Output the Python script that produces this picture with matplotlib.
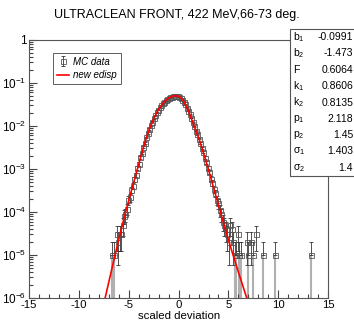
import numpy as np
import matplotlib
matplotlib.use("Agg")
import matplotlib.pyplot as plt
from matplotlib.patches import Rectangle

plt.rcParams['font.family'] = ['Liberation Sans', 'DejaVu Sans']
plt.rcParams['mathtext.fontset'] = 'custom'
plt.rcParams['mathtext.rm'] = 'Liberation Sans'
plt.rcParams['mathtext.it'] = 'Liberation Sans:italic'
plt.rcParams['axes.unicode_minus'] = False

# MC histogram: 200 bins over [-15, 15], counts normalised to total
n_total = 100000
first_center = -6.675
bin_width = 0.15
core_counts = [1, 1, 0, 3, 2, 3, 3, 5, 8, 9, 12, 19, 22, 33, 40, 58, 73, 104, 131, 186,
               236, 330, 410, 545, 690, 845, 1040, 1250, 1520, 1760, 2070, 2390, 2700,
               3000, 3370, 3660, 3950, 4200, 4490, 4630, 4820, 4970, 5030, 4990, 4920,
               4730, 4350, 4090, 3700, 3180, 2680, 2260, 1870, 1530, 1220, 975, 780, 645,
               510, 405, 310, 248, 183, 144, 108, 85, 60, 48, 34, 28, 19, 16, 11, 9, 6,
               5, 4, 3, 2, 5, 4, 2, 1, 1, 3, 1, 1]
tail_x = [6.825, 6.975, 7.275, 7.425, 7.725, 8.425, 9.675, 13.275]
tail_counts = [2, 1, 2, 1, 3, 1, 1, 1]

# fitted "new edisp" curve (log10 of value)
fit_x = [-8.0, -7.5, -7.0, -6.5, -6.0, -5.5, -5.0, -4.5, -4.0, -3.5, -3.0, -2.5, -2.0,
         -1.5, -1.25, -1.0, -0.75, -0.5, -0.25, 0.0, 0.25, 0.5, 0.75, 1.0, 1.25, 1.5,
         1.75, 2.0, 2.5, 3.0, 3.5, 4.0, 4.5, 5.0, 5.5, 6.0, 6.5, 7.0, 7.5]
fit_log = [-6.63, -6.13, -5.63, -5.13, -4.64, -4.17, -3.73, -3.31, -2.89, -2.47, -2.11,
           -1.83, -1.61, -1.45, -1.40, -1.35, -1.32, -1.30, -1.30, -1.31, -1.355, -1.42,
           -1.53, -1.66, -1.81, -1.97, -2.12, -2.27, -2.63, -3.02, -3.43, -3.84, -4.25,
           -4.65, -5.03, -5.40, -5.76, -6.12, -6.48]

par_names = [r'$\mathregular{b_1}$', r'$\mathregular{b_2}$', 'F', r'$\mathregular{k_1}$',
             r'$\mathregular{k_2}$', r'$\mathregular{p_1}$', r'$\mathregular{p_2}$',
             r'$\mathregular{\sigma_1}$', r'$\mathregular{\sigma_2}$']
par_values = ['-0.0991', '-1.473', '0.6064', '0.8606', '0.8135', '2.118', '1.45', '1.403', '1.4']

# assemble points
x_core = first_center + bin_width * np.arange(len(core_counts))
x_all = np.concatenate([x_core, tail_x])
c_all = np.concatenate([core_counts, tail_counts]).astype(float)
keep = c_all > 0
x_all, c_all = x_all[keep], c_all[keep]
y_all = c_all / n_total
err = np.sqrt(c_all) / n_total
err_lo = np.where(c_all == 1, 0.0, err)

fig = plt.figure(figsize=(3.54, 3.22), dpi=100)
ax = fig.add_axes([0.082, 0.0745, 0.845, 0.8015])

single = c_all == 1
ax.vlines(x_all[single], 1e-7, y_all[single], color='#b0b0b0', lw=1.5, zorder=1)
eb = ax.errorbar(x_all, y_all, yerr=[err_lo, err], fmt='s', ms=3.6, mfc='none',
                 mec='#555555', mew=0.6, ecolor='#333333', elinewidth=0.6,
                 capsize=1.6, capthick=0.6, zorder=2)
line, = ax.plot(fit_x, 10 ** np.array(fit_log), color='red', lw=1.2, zorder=3)

ax.set_yscale('log')
ax.set_xlim(-15, 15)
ax.set_ylim(1e-6, 1)
ax.set_xticks(np.arange(-15, 16, 5))
ax.set_xticks(np.arange(-15, 16, 1), minor=True)
ax.set_yticks([1e-6, 1e-5, 1e-4, 1e-3, 1e-2, 1e-1, 1])
ax.set_yticklabels([r'$\mathregular{10^{-6}}$', r'$\mathregular{10^{-5}}$',
                    r'$\mathregular{10^{-4}}$', r'$\mathregular{10^{-3}}$',
                    r'$\mathregular{10^{-2}}$', r'$\mathregular{10^{-1}}$', '1'])
ax.yaxis.set_minor_locator(matplotlib.ticker.LogLocator(base=10, subs=np.arange(2, 10)))
ax.yaxis.set_minor_formatter(matplotlib.ticker.NullFormatter())
ax.tick_params(which='both', direction='in', top=False, right=False,
               colors='#444444', labelcolor='black', labelsize=8.5, width=0.8)
ax.tick_params(which='major', length=5.5, pad=2)
ax.tick_params(axis='x', which='major', pad=1.2, labelsize=8.2)
ax.tick_params(which='minor', length=2.8)
for s in ax.spines.values():
    s.set_color('#555555')
    s.set_linewidth(0.8)
ax.set_xlabel('scaled deviation', fontsize=8.2)
ax.xaxis.set_label_coords(0.5, -0.05)

leg = ax.legend([eb, line], ['MC data', 'new edisp'], loc='upper left',
                bbox_to_anchor=(0.08, 0.95), frameon=True, fancybox=False,
                edgecolor='#333333', handlelength=1.3, handletextpad=0.4,
                borderpad=0.4, labelspacing=0.35, borderaxespad=0,
                prop={'style': 'italic', 'size': 7})
leg.get_frame().set_linewidth(0.7)

fig.text(0.5, 1 - 15 / 322, 'ULTRACLEAN FRONT, 422 MeV,66-73 deg.', ha='center',
         va='center', fontsize=9)

# fit parameter box (runs off the right edge)
box_top = 1 - 29 / 322
box_bot = 1 - 176 / 322
fig.add_artist(Rectangle((290 / 354, box_bot), 0.3, box_top - box_bot,
                         transform=fig.transFigure, facecolor='white',
                         edgecolor='#555555', lw=0.8, zorder=5))
row_h = (box_top - box_bot) / len(par_names)
for i, (nm, val) in enumerate(zip(par_names, par_values)):
    yy = box_top - row_h * (i + 0.5)
    fig.text(293 / 354, yy, nm, ha='left', va='center', fontsize=7.5, zorder=6)
    fig.text(353 / 354, yy, val, ha='right', va='center', fontsize=7.5, zorder=6)

fig.savefig('out.png', dpi=100)
